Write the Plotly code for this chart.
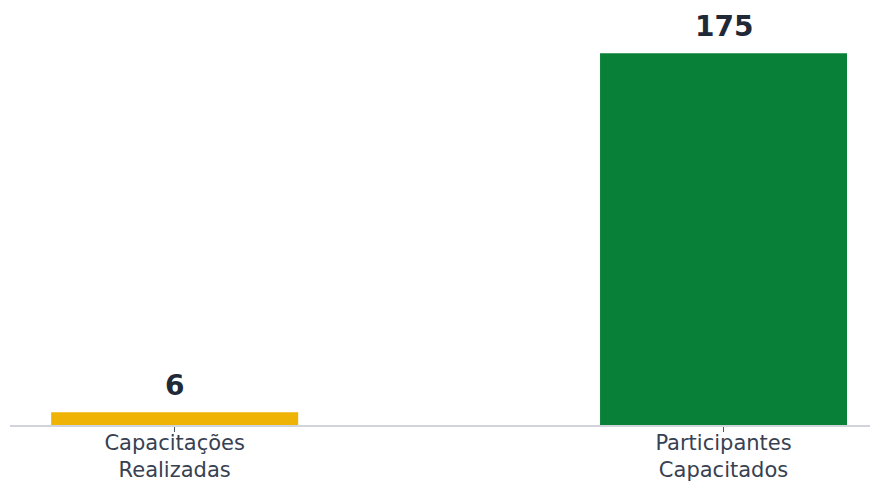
import plotly.graph_objects as go

categories = ["Capacitações<br>Realizadas", "Participantes<br>Capacitados"]
values = [6, 175]
labels = ["6", "175"]
colors = ["#EEB304", "#088037"]

fig = go.Figure(go.Bar(
    x=categories, y=values, marker=dict(color=colors, line=dict(width=0)),
    width=0.45, hoverinfo="skip",
))
for c, v, t in zip(categories, values, labels):
    fig.add_annotation(x=c, y=v, text=t, showarrow=False, yanchor="bottom", yshift=8,
                       font=dict(family="DejaVu Sans", size=28, color="#1f2937", weight="bold"))
fig.update_layout(
    width=878, height=484, margin=dict(l=2, r=0, t=8, b=67, autoexpand=False),
    paper_bgcolor="white", plot_bgcolor="white", showlegend=False,
    font=dict(family="DejaVu Sans", size=21, color="#374151"),
)
fig.update_xaxes(range=[-0.3, 1.296], showline=True, linecolor="#d1d5db", linewidth=1.5,
                 ticks="outside", ticklen=5, tickcolor="#4b5563", showgrid=False,
                 ticklabelstandoff=-7, automargin=False, fixedrange=True)
fig.update_yaxes(range=[0, 192.5], visible=False, showgrid=False, automargin=False, fixedrange=True)
fig.write_html("out.html", config={"displayModeBar": False})
